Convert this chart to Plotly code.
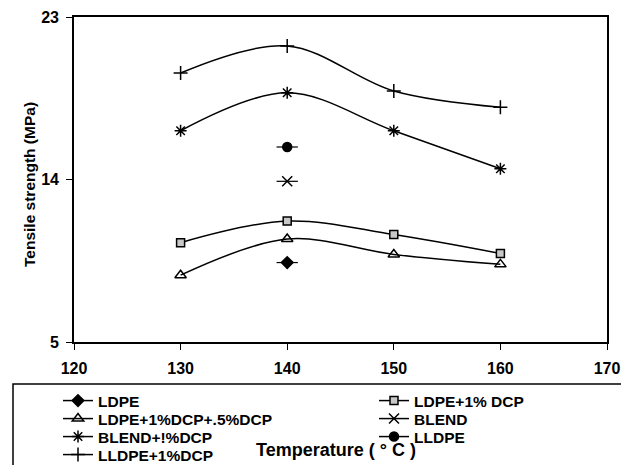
import plotly.graph_objects as go

# Tensile strength (MPa) vs. processing temperature (°C)
temps = [130, 140, 150, 160]
single_temp = [140]

ldpe = [9.4]
ldpe_1dcp = [10.5, 11.7, 10.95, 9.9]
ldpe_1dcp_05dcp = [8.7, 10.7, 9.85, 9.3]
blend = [13.9]
blend_1dcp = [16.7, 18.8, 16.7, 14.6]
lldpe = [15.8]
lldpe_1dcp = [19.9, 21.4, 18.9, 18.0]

x_ticks = [120, 130, 140, 150, 160, 170]
y_ticks = [5, 14, 23]

FONT = "Liberation Sans, Arial, sans-serif"
BLACK = "#000000"

W, H = 621, 465
ML, MR, MT, MB = 74, 14, 17, 123
PW, PH = W - ML - MR, H - MT - MB


def px_x(p):
    return (p - ML) / PW


def px_y(p):
    return (H - MB - p) / PH


fig = go.Figure()

# legend entries are laid out in a two-column grid, one legend per cell
LEFT_X, RIGHT_X = 58, 374
ROW_Y = [401, 419, 437, 455]
legend_font = dict(family=FONT, size=15.5, color=BLACK, weight="bold")
legend_layouts = {}


def add_series(name, xs, ys, symbol, size, cell, fill=BLACK, single=False):
    key = "legend" if not legend_layouts else f"legend{len(legend_layouts) + 1}"
    col, row = cell
    legend_layouts[key] = dict(
        x=px_x(LEFT_X if col == 0 else RIGHT_X), y=px_y(ROW_Y[row] - 17),
        xanchor="left", yanchor="top", orientation="v", font=legend_font,
        bgcolor="rgba(0,0,0,0)", borderwidth=0, tracegroupgap=0,
    )
    fig.add_trace(go.Scatter(
        x=xs, y=ys, name=name, mode="lines+markers",
        line=dict(color=BLACK, width=1.5, shape="spline", smoothing=1.0),
        marker=dict(symbol=symbol, size=size, color=fill,
                    line=dict(color=BLACK, width=1.5)),
        error_x=dict(type="constant", value=1, width=0, thickness=1.2,
                     color=BLACK) if single else None,
        legend=key,
    ))


add_series("LDPE", single_temp, ldpe, "diamond", 9, (0, 0), single=True)
add_series("LDPE+1% DCP", temps, ldpe_1dcp, "square", 8, (1, 0), fill="#c8c8c8")
add_series("LDPE+1%DCP+.5%DCP", temps, ldpe_1dcp_05dcp, "triangle-up-open", 10, (0, 1))
add_series("BLEND", single_temp, blend, "x-thin-open", 10, (1, 1), single=True)
add_series("BLEND+!%DCP", temps, blend_1dcp, "asterisk-open", 10, (0, 2))
add_series("LLDPE", single_temp, lldpe, "circle", 9, (1, 2), single=True)
add_series("LLDPE+1%DCP", temps, lldpe_1dcp, "cross-thin-open", 10, (0, 3))

axis_common = dict(
    showgrid=False, zeroline=False, showline=True, linecolor=BLACK,
    linewidth=1.6, mirror=True, ticks="outside", ticklen=6, tickwidth=1.2,
    tickcolor=BLACK, tickfont=dict(family=FONT, size=16, color=BLACK, weight="bold"),
)

fig.update_xaxes(range=[120, 170], tickvals=x_ticks, ticklabelstandoff=5, **axis_common)
fig.update_yaxes(range=[5, 23], tickvals=y_ticks, ticklabelstandoff=4, **axis_common)

fig.update_layout(
    width=W, height=H, autosize=False,
    margin=dict(l=ML, r=MR, t=MT, b=MB, autoexpand=False),
    paper_bgcolor="white", plot_bgcolor="white",
    showlegend=True,
    shapes=[dict(type="rect", xref="paper", yref="paper",
                 x0=px_x(13), x1=px_x(640), y0=px_y(480), y1=px_y(384),
                 line=dict(color=BLACK, width=1.5), fillcolor="rgba(0,0,0,0)")],
    annotations=[
        dict(text="Tensile strength (MPa)", textangle=-90, showarrow=False,
             xref="paper", yref="paper", x=px_x(29), y=px_y(185),
             xanchor="center", yanchor="middle",
             font=dict(family=FONT, size=15.5, color=BLACK, weight="bold")),
        dict(text="Temperature ( ° C )", showarrow=False,
             xref="paper", yref="paper", x=px_x(336), y=px_y(450),
             xanchor="center", yanchor="middle",
             font=dict(family=FONT, size=18, color=BLACK, weight="bold")),
    ],
    **legend_layouts,
)

fig.write_html("out.html")
